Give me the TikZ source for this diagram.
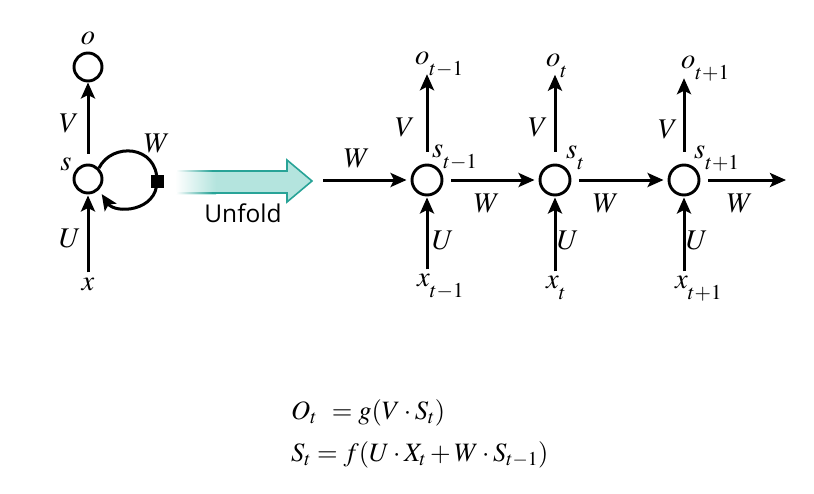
\documentclass[tikz,border=0pt]{standalone}
\usepackage{mathptmx}
\usepackage{fontspec}
\usepackage{tikz}
\usetikzlibrary{arrows.meta}
\newfontfamily\unfoldfont{Open Sans}
\definecolor{tealline}{RGB}{40,163,151}
\definecolor{tealfill}{RGB}{180,228,222}
\newcommand\lsub[1]{_{\raisebox{-7pt}{$\scriptstyle #1$}}}

\tikzset{
  cell/.style={circle, draw, line width=2.9pt, minimum size=30pt, inner sep=0pt},
  lbl/.style={inner sep=1pt, font=\fontsize{28.5}{30}\selectfont},
  arr/.style={line width=3pt, -{Stealth[length=16pt,width=14pt,inset=3.5pt]}},
}

\begin{document}
\begin{tikzpicture}[x=1pt,y=-1pt]
  \useasboundingbox (0,0) rectangle (814,493);
  % folded network
  \node[cell, minimum size=28pt] (s) at (88,179) {};
  \node[cell, minimum size=28pt] (o) at (88,67) {};
  \node[lbl] (x) at (88,284) {$x$};
  \node[lbl] (olab) at (88,38) {$o$};
  \node[lbl] (slab) at (66,164) {$s$};
  \node[lbl] (Vl) at (69,123) {$V$};
  \node[lbl] (Ul) at (70,238) {$U$};
  \node[lbl] (Wl) at (157,143) {$W$};
  \draw[arr,shorten <=4pt,shorten >=1pt] (x) -- (s);
  \draw[arr,shorten <=10pt] (s) -- (o);
  \draw[line width=3pt] (s.45) .. controls (112,142) and (157,145) .. (157,181);
  \draw[arr,shorten >=5pt] (157,181) .. controls (157,212) and (115,214) .. (s.-45);
  \node[fill, minimum size=13pt, inner sep=0pt] (sq) at (157,181) {};

  % unfold arrow
  \fill[tealfill] (176,171) -- (287,171) -- (287,160) -- (312,181) -- (287,202) -- (287,193) -- (176,193) -- cycle;
  \shade[left color=white, right color=tealfill] (175,170) rectangle (216,194);
  \draw[tealline, line width=1.6pt, line join=miter] (212,171) -- (287,171) -- (287,160) -- (312,181) -- (287,202) -- (287,193) -- (212,193);
  \shade[left color=white, right color=tealline] (176,170.2) rectangle (212.5,171.8);
  \shade[left color=white, right color=tealline] (176,192.2) rectangle (212.5,193.8);
  \node[font=\unfoldfont\fontsize{24.5}{28}\selectfont, inner sep=0pt, anchor=base] (unfold) at (243,222) {Unfold};

  % unfolded network
  \node[cell] (s1) at (427,180) {};
  \node[cell] (s2) at (555,180) {};
  \node[cell] (s3) at (684,180) {};
  \node[lbl, anchor=base west] (o1) at (414,64) {$o\lsub{t-1}$};
  \node[lbl, anchor=base west] (o2) at (545,66) {$o\lsub{t}$};
  \node[lbl, anchor=base west] (o3) at (680,68) {$o\lsub{t+1}$};
  \node[lbl, anchor=base west] (x1) at (416,286) {$x\lsub{t-1}$};
  \node[lbl, anchor=base west] (x2) at (545,288) {$x\lsub{t}$};
  \node[lbl, anchor=base west] (x3) at (674,288) {$x\lsub{t+1}$};
  \node[lbl, anchor=base west] (sl1) at (431,157) {$s\lsub{t-1}$};
  \node[lbl, anchor=base west] (sl2) at (565,158) {$s\lsub{t}$};
  \node[lbl, anchor=base west] (sl3) at (693,158) {$s\lsub{t+1}$};
  \node[lbl] (V1) at (405,127) {$V$};
  \node[lbl] (V2) at (538,127) {$V$};
  \node[lbl] (V3) at (668,129) {$V$};
  \node[lbl] (U1) at (443,240) {$U$};
  \node[lbl] (U2) at (568,240) {$U$};
  \node[lbl] (U3) at (697,240) {$U$};
  \node[lbl] (W0) at (357,158) {$W$};
  \node[lbl] (W1) at (487,203) {$W$};
  \node[lbl] (W2) at (606,203) {$W$};
  \node[lbl] (W3) at (740,203) {$W$};
  \coordinate (in) at (323,180);
  \coordinate (out) at (786,180);
  \draw[arr,shorten >=4pt] (in) -- (s1);
  \draw[arr,shorten <=8pt,shorten >=4pt] (s1) -- (s2);
  \draw[arr,shorten <=8pt,shorten >=4pt] (s2) -- (s3);
  \draw[arr,shorten <=8pt] (s3) -- (out);
  \draw[arr,shorten <=12pt,shorten >=-4pt] (s1) -- (s1 |- o1.south);
  \draw[arr,shorten <=12pt,shorten >=-4pt] (s2) -- (s2 |- o2.south);
  \draw[arr,shorten <=12pt,shorten >=-4pt] (s3) -- (s3 |- o3.south);
  \draw[arr,shorten <=3pt,shorten >=1pt] (s1 |- x1.north) -- (s1);
  \draw[arr,shorten <=3pt,shorten >=1pt] (s2 |- x2.north) -- (s2);
  \draw[arr,shorten <=3pt,shorten >=1pt] (s3 |- x3.north) -- (s3);

  % equations
  \node[anchor=west, align=left, inner sep=0pt, font=\fontsize{26.5}{42}\selectfont] (eqs) at (291,434)
    {$O_t\;\,= g(V\cdot S_t)$\\ $S_t = f(U\cdot X_t + W\cdot S_{t-1})$};
\end{tikzpicture}
\end{document}
